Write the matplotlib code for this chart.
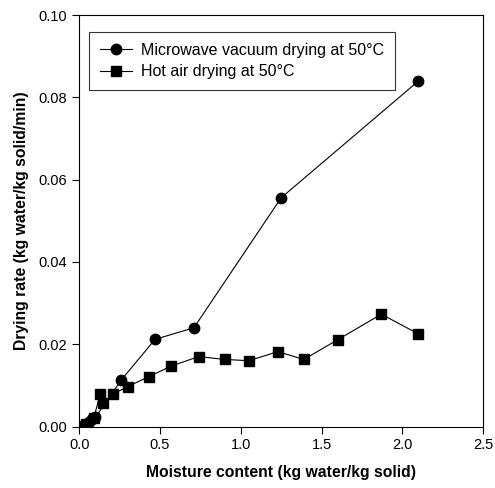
import matplotlib
matplotlib.use("Agg")
import matplotlib.pyplot as plt

plt.rcParams['font.family'] = ['Liberation Sans', 'DejaVu Sans']

# microwave vacuum drying at 50 C
mw_x = [0.03, 0.06, 0.08, 0.10, 0.26, 0.47, 0.71, 1.25, 2.10]
mw_y = [0.0004, 0.0012, 0.0018, 0.0022, 0.0113, 0.0212, 0.0240, 0.0556, 0.0840]

# hot air drying at 50 C
ha_x = [0.04, 0.09, 0.13, 0.15, 0.21, 0.30, 0.43, 0.57, 0.74, 0.90, 1.05, 1.23, 1.39, 1.60, 1.87, 2.10]
ha_y = [0.0005, 0.0020, 0.0079, 0.0056, 0.0079, 0.0097, 0.0121, 0.0147, 0.0170, 0.0163, 0.0160, 0.0182, 0.0163, 0.0211, 0.0273, 0.0225]

xticks = [0.0, 0.5, 1.0, 1.5, 2.0, 2.5]
yticks = [0.00, 0.02, 0.04, 0.06, 0.08, 0.10]

fig = plt.figure(figsize=(4.95, 4.88), dpi=100)
ax = fig.add_axes([0.16, 0.126, 0.816, 0.843])

ax.plot(mw_x, mw_y, '-o', color='black', lw=0.8, ms=7.5,
        label='Microwave vacuum drying at 50°C')
ax.plot(ha_x, ha_y, '-s', color='black', lw=0.8, ms=6.5,
        label='Hot air drying at 50°C')

ax.set_xlim(0, 2.5)
ax.set_ylim(0, 0.1)
ax.set_xticks(xticks)
ax.set_xticklabels([f'{v:.1f}' for v in xticks])
ax.set_yticks(yticks)
ax.set_yticklabels([f'{v:.2f}' for v in yticks])
ax.tick_params(direction='out', length=5, width=0.8, labelsize=10.5, top=False, right=False)
for s in ax.spines.values():
    s.set_linewidth(0.8)

ax.set_xlabel('Moisture content (kg water/kg solid)', fontsize=11.3, fontweight='bold', labelpad=9)
ax.set_ylabel('Drying rate (kg water/kg solid/min)', fontsize=11.3, fontweight='bold', labelpad=7)

leg = ax.legend(loc='upper left', bbox_to_anchor=(0.025, 0.958), fontsize=11.5,
                frameon=True, fancybox=False, edgecolor='black', handlelength=2.0,
                borderpad=0.65, labelspacing=0.4, handletextpad=0.6, borderaxespad=0)
leg.get_frame().set_linewidth(0.8)

fig.savefig('out.png', dpi=100)
